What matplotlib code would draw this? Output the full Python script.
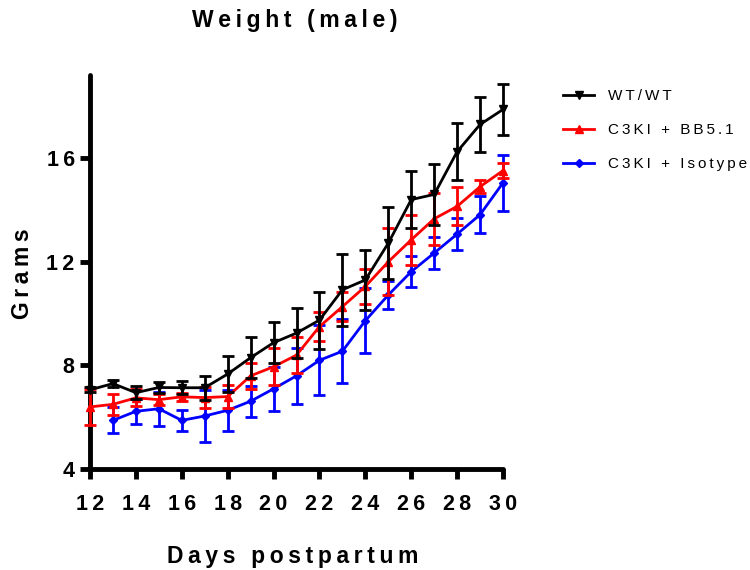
import matplotlib
matplotlib.use("Agg")
import numpy as np
from matplotlib import pyplot as plt

# data (mean +/- error)
days = list(range(12, 31))
wt_mean = [7.06, 7.30, 6.95, 7.15, 7.14, 7.14, 7.67, 8.30, 8.88, 9.25, 9.75, 10.92,
           11.30, 12.72, 14.40, 14.60, 16.25, 17.30, 17.88]
wt_err = [0.10, 0.12, 0.25, 0.23, 0.25, 0.47, 0.68, 0.80, 0.80, 0.97, 1.10, 1.40,
          1.15, 1.40, 1.10, 1.17, 1.10, 1.05, 0.97]

bb_mean = [6.40, 6.50, 6.75, 6.68, 6.79, 6.76, 6.80, 7.60, 7.95, 8.40, 9.50, 10.27,
           11.05, 12.00, 12.85, 13.66, 14.14, 14.90, 15.52]
bb_err = [0.70, 0.40, 0.33, 0.20, 0.15, 0.40, 0.43, 0.50, 0.72, 0.70, 0.56, 0.55,
          0.66, 1.30, 0.96, 1.00, 0.73, 0.25, 0.29]

iso_days = list(range(13, 31))
iso_mean = [5.88, 6.23, 6.33, 5.88, 6.05, 6.27, 6.62, 7.10, 7.60, 8.20, 8.55,
            9.73, 10.72, 11.62, 12.34, 13.07, 13.82, 15.05]
iso_err = [0.50, 0.48, 0.65, 0.40, 0.99, 0.78, 0.60, 0.85, 1.07, 1.35, 1.24,
           1.25, 0.55, 0.60, 0.63, 0.62, 0.72, 1.07]

labels = ["WT/WT", "C3KI + BB5.1", "C3KI + Isotype"]
xticks = [12, 14, 16, 18, 20, 22, 24, 26, 28, 30]
yticks = [4, 8, 12, 16]

plt.rcParams['font.family'] = ['Liberation Sans', 'DejaVu Sans']


def spaced(s):
    # fake letter spacing like the original (Prism style)
    return "\u2009".join(s)


fig = plt.figure(figsize=(7.5, 5.7), dpi=100)
ax = fig.add_axes([0.12, 0.177, 0.5507, 0.691])

style = dict(linewidth=2, elinewidth=2, capsize=4.5, capthick=2, clip_on=False)
h3 = ax.errorbar(iso_days, iso_mean, yerr=iso_err, color='#0000ff', marker='D',
                 markersize=4, label=spaced(labels[2]), zorder=3, **style)
h2 = ax.errorbar(days, bb_mean, yerr=bb_err, color='#ff0000', marker='^',
                 markersize=6, label=spaced(labels[1]), zorder=4, **style)
h1 = ax.errorbar(days, wt_mean, yerr=wt_err, color='black', marker='v',
                 markersize=6, label=spaced(labels[0]), zorder=5, **style)

ax.set_xlim(12, 30)
ax.set_ylim(4, 19.2)
ax.set_xticks(xticks)
ax.set_yticks(yticks)
ax.set_xticklabels([spaced(str(t)) for t in xticks], fontsize=15.5, fontweight='bold')
ax.set_yticklabels([spaced(str(t)) for t in yticks], fontsize=15.5, fontweight='bold')
ax.tick_params(axis='both', length=7, width=3.5, direction='out')
ax.tick_params(axis='x', pad=11)
ax.tick_params(axis='y', pad=4)

for side in ['top', 'right']:
    ax.spines[side].set_visible(False)
for side in ['left', 'bottom']:
    ax.spines[side].set_linewidth(3.5)
    ax.spines[side].set_capstyle('round')

fig.text(0.393, 0.9526, spaced("Weight (male)"), fontsize=16.5, fontweight='bold',
         ha='center', va='baseline')
fig.text(0.39, 0.013, spaced("Days postpartum"), fontsize=16.5, fontweight='bold',
         ha='center', va='baseline')
fig.text(0.03, 0.519, spaced("Grams"), fontsize=16.5, fontweight='bold',
         ha='center', va='center', rotation=90)

# legend shows only line + marker, no error bars
fig.legend(handles=[h1[0], h2[0], h3[0]], labels=[spaced(l) for l in labels],
           loc='upper left', bbox_to_anchor=(0.751, 0.843),
           frameon=False, fontsize=11, borderpad=0, borderaxespad=0,
           handlelength=2.0, handletextpad=0.9, labelspacing=1.3)

fig.savefig("out.png", dpi=100)
